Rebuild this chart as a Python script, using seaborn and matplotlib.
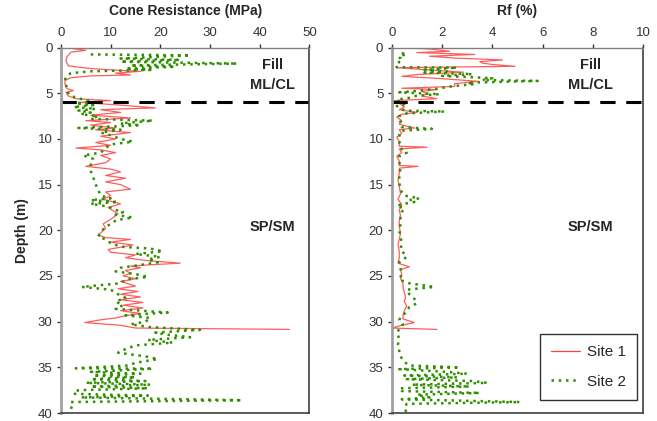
import numpy as np
import pandas as pd
import matplotlib
matplotlib.use("Agg")
import matplotlib.pyplot as plt
from matplotlib.lines import Line2D
import seaborn as sns

# cone resistance, site 1 (depth m, qc MPa)
qc1_depth = [0.0, 0.3, 0.5, 1.0, 1.5, 2.0, 2.3, 2.5, 2.6, 2.8, 3.0, 3.1, 3.3, 3.6, 4.0, 4.5, 4.7, 4.9,
             5.3, 5.6, 5.8, 6.0, 6.3, 6.6, 6.8, 7.1, 7.4, 7.7, 8.0, 8.2, 8.5, 8.8, 9.0, 9.3, 9.7, 10.0,
             10.4, 10.7, 11.0, 11.2, 11.5, 11.8, 12.2, 12.6, 13.0, 13.3, 13.6, 14.0, 14.3, 14.7, 15.0,
             15.5, 15.8, 16.2, 16.6, 17.1, 17.5, 18.2, 18.8, 19.3, 19.8, 20.5, 20.8, 21.0, 21.3, 21.6,
             22.1, 22.4, 22.7, 23.0, 23.3, 23.6, 23.9, 24.1, 24.4, 24.7, 25.0, 25.3, 25.6, 26.1, 26.4,
             26.7, 27.0, 27.3, 27.6, 27.9, 28.2, 28.5, 28.8, 29.1, 29.4, 29.6, 29.8, 30.1, 30.4, 30.7, 30.85]
qc1 = [1.0, 5.0, 2.0, 1.2, 1.0, 1.5, 6.0, 12.0, 16.0, 11.0, 14.0, 6.0, 2.0, 0.8, 0.8, 1.2, 2.5, 1.0,
       1.5, 3.0, 10.0, 4.0, 12.0, 19.0, 8.0, 12.0, 6.0, 14.0, 5.0, 10.0, 6.0, 11.0, 7.0, 14.0, 8.0, 11.0,
       7.0, 10.0, 3.0, 8.0, 11.0, 8.0, 10.0, 9.0, 5.0, 10.0, 12.0, 9.0, 13.0, 9.0, 12.0,
       14.0, 9.0, 10.0, 8.5, 12.0, 9.5, 11.5, 10.0, 8.5, 9.0, 7.5, 9.0, 14.0, 10.0, 14.5,
       9.5, 10.0, 15.0, 13.0, 17.0, 24.0, 14.0, 16.0, 13.0, 14.0, 12.5, 15.0, 12.0, 15.0, 11.5,
       15.5, 12.0, 16.0, 12.0, 16.5, 12.5, 16.5, 12.0, 16.0, 12.5, 11.0, 8.0, 4.8, 12.0, 15.0, 46.0]

# cone resistance, site 2
qc2_depth = [0.75, 0.85, 1.2, 1.35, 1.55, 1.75, 1.95, 2.1, 2.3, 2.45, 2.6, 2.8, 3.2, 3.6, 4.0, 4.5, 5.0,
             5.3, 5.7, 5.9, 6.1, 6.3, 6.5, 6.7, 6.9, 7.1, 7.3, 7.5, 7.8, 8.0, 8.3, 8.5, 8.8, 9.0, 9.3,
             9.6, 10.0, 10.3, 10.6, 11.0, 11.5, 11.8, 12.2, 12.8, 13.5, 14.2, 15.0, 15.6, 16.2, 16.5,
             16.7, 16.9, 17.1, 17.4, 17.7, 18.0, 18.3, 18.6, 18.9, 19.2, 19.6, 20.2, 20.7, 21.0, 21.4,
             21.8, 22.0, 22.3, 22.6, 22.9, 23.2, 23.5, 23.8, 24.1, 24.5, 24.8, 25.1, 25.4, 25.8, 26.2,
             26.5, 27.0, 27.4, 27.8, 28.2, 28.6, 29.0, 29.3, 29.6, 30.0, 30.3, 30.6, 30.9, 31.2, 31.4,
             31.7, 32.0, 32.3, 32.6, 33.0, 33.4, 33.8, 34.1, 34.5, 34.8, 35.1, 35.15, 35.5, 35.7, 35.9,
             36.1, 36.3, 36.5, 36.7, 36.9, 37.1, 37.3, 37.5, 37.9, 38.1, 38.3, 38.6, 38.8, 39.2, 40.0]
qc2 = [6.0, 26.0, 12.0, 24.0, 12.0, 35.5, 14.0, 23.0, 13.0, 18.0, 6.0, 2.0, 1.0, 0.8, 1.0, 1.2, 1.5,
       2.0, 4.5, 6.0, 3.0, 6.5, 2.5, 7.0, 3.5, 6.0, 4.0, 7.5, 6.0, 18.5, 12.0, 16.0, 3.5, 12.0, 8.0,
       10.0, 12.0, 14.5, 10.0, 9.0, 8.0, 4.5, 6.5, 6.0, 6.0, 6.5, 7.0, 7.5, 8.0, 10.0,
       6.0, 11.5, 6.0, 9.5, 10.5, 12.5, 11.0, 14.5, 11.0, 10.5, 9.0, 8.0, 7.5, 9.0, 10.0,
       12.0, 18.0, 20.5, 15.0, 20.0, 17.5, 19.5, 16.0, 12.0, 11.0, 15.0, 17.5, 13.0, 12.0, 4.2,
       10.0, 11.5, 13.0, 11.0, 12.5, 11.0, 21.5, 13.0, 18.0, 17.0, 14.0, 18.0, 28.0, 19.0, 21.0,
       26.0, 17.5, 22.5, 15.0, 13.0, 11.5, 17.0, 19.5, 15.0, 13.5, 3.0, 18.5, 6.0, 16.0, 6.5,
       15.0, 6.0, 17.0, 5.0, 18.0, 6.0, 17.5, 3.5, 2.5, 17.5, 4.0, 36.5, 2.0, 2.2, 1.8]

# friction ratio, site 1 (%)
rf1_depth = [0.05, 0.15, 0.4, 0.55, 0.75, 0.95, 1.15, 1.35, 1.55, 1.7, 1.85, 2.05, 2.2, 2.45, 2.7, 2.95,
             3.15, 3.4, 3.7, 3.95, 4.25, 4.45, 4.6, 4.8, 5.05, 5.3, 5.6, 5.8, 6.1, 6.5, 6.8, 7.1, 7.3,
             7.6, 8.0, 8.4, 8.8, 9.0, 9.4, 9.8, 10.3, 10.8, 10.9, 11.1, 11.5, 11.9, 12.4, 12.9, 13.0,
             13.2, 13.8, 14.5, 15.2, 16.0, 16.6, 17.2, 17.8, 18.4, 19.0, 19.6, 20.3, 21.0, 21.6, 22.3,
             23.0, 23.6, 24.0, 24.3, 24.8, 25.3, 25.8, 26.3, 26.8, 27.3, 27.8, 28.3, 28.8, 29.3, 29.7,
             30.1, 30.4, 30.7, 30.85]
rf1 = [0.6, 1.5, 2.3, 1.0, 3.3, 1.5, 2.5, 4.4, 3.5, 3.6, 4.0, 4.9, 0.2, 1.5, 2.85, 1.0,
       0.4, 2.0, 3.45, 2.5, 2.5, 0.4, 1.8, 1.2, 1.4, 1.2, 1.8, 0.1, 0.3, 0.5, 0.3, 1.0, 0.4,
       0.2, 0.4, 0.3, 0.9, 0.3, 0.4, 0.2, 0.3, 0.3, 1.4, 0.3, 0.4, 0.2, 0.3, 0.3, 1.05,
       0.3, 0.3, 0.25, 0.3, 0.35, 0.25, 0.4, 0.3, 0.35, 0.3, 0.3, 0.35, 0.3, 0.25, 0.3,
       0.3, 0.25, 0.7, 0.35, 0.4, 0.35, 0.45, 0.45, 0.5, 0.55, 0.5, 0.6, 0.5, 0.45, 0.45,
       0.9, 0.4, 0.0, 1.8]

# friction ratio, site 2
rf2_depth = [0.6, 0.75, 0.9, 1.1, 1.3, 1.6, 1.9, 2.15, 2.2, 2.45, 2.6, 2.75, 2.9, 3.1, 3.35, 3.55, 3.65,
             3.85, 4.0, 4.2, 4.5, 4.75, 4.9, 5.1, 5.3, 5.5, 5.7, 5.9, 6.2, 6.4, 6.7, 6.9, 7.0, 7.2, 7.5,
             7.9, 8.3, 8.7, 8.9, 9.1, 9.5, 10.0, 10.5, 11.0, 11.5, 11.9, 12.5, 13.2, 14.0, 14.8, 15.6,
             16.2, 16.5, 16.7, 16.9, 17.1, 17.3, 17.6, 18.0, 18.6, 19.3, 20.0, 20.7, 21.4, 22.1, 22.9,
             23.5, 24.2, 24.8, 25.4, 25.8, 26.2, 26.5, 27.0, 27.5, 28.0, 28.4, 28.9, 29.4, 29.8, 30.3,
             30.8, 31.3, 31.8, 32.5, 33.2, 33.8, 34.4, 34.8, 35.0, 35.2, 35.5, 35.7, 35.9, 36.1, 36.3,
             36.5, 36.7, 36.9, 37.1, 37.3, 37.6, 37.8, 38.0, 38.3, 38.5, 38.8, 39.0, 39.4, 40.0]
rf2 = [0.4, 0.6, 0.3, 0.35, 0.2, 0.3, 0.15, 0.2, 2.6, 1.3, 2.2, 1.3, 3.2, 2.0, 4.0, 3.6, 5.8,
       3.0, 3.3, 2.5, 1.8, 1.0, 0.3, 1.9, 0.9, 0.7, 0.2, 0.3, 0.5, 0.2, 0.4, 0.5, 2.1, 0.6, 0.3,
       0.4, 0.3, 0.4, 1.6, 0.4, 0.3, 0.35, 0.3, 0.35, 0.6, 0.3, 0.3, 0.35, 0.3, 0.3, 0.35,
       0.5, 1.1, 0.7, 0.9, 0.5, 0.2, 0.5, 0.4, 0.35, 0.35, 0.3, 0.35, 0.4, 0.35, 0.6,
       0.3, 0.35, 0.4, 0.3, 0.7, 1.7, 0.6, 0.7, 0.9, 1.0, 0.7, 0.6, 0.4, 0.3, 0.45,
       0.3, 0.2, 0.3, 0.25, 0.3, 0.35, 0.5, 0.7, 2.7, 0.3, 2.2, 3.0, 0.5, 2.6, 0.6,
       3.2, 3.8, 0.8, 3.1, 0.3, 0.4, 3.5, 1.0, 1.5, 0.4, 5.1, 0.6, 0.5, 0.6]

site_labels = ["Site 1", "Site 2"]
fill_depth = 6.0

sns.set_style("white")
plt.rcParams["font.family"] = ["Liberation Sans", "DejaVu Sans"]

red = "#ff4040"
green = "#2f8f00"
dots = (0, (1, 1.9))

fig = plt.figure(figsize=(6.57, 4.21), dpi=100)
ax1 = fig.add_axes([0.0928, 0.019, 0.378, 0.868])
ax2 = fig.add_axes([0.5962, 0.019, 0.383, 0.868])


def draw_profile(ax, d1, v1, d2, v2):
    sns.lineplot(x=v1, y=d1, sort=False, estimator=None, orient="y", ax=ax,
                 color=red, linewidth=0.9, alpha=0.85)
    sns.lineplot(x=v2, y=d2, sort=False, estimator=None, orient="y", ax=ax,
                 color=green, linewidth=1.8, linestyle=dots)


draw_profile(ax1, qc1_depth, qc1, qc2_depth, qc2)
draw_profile(ax2, rf1_depth, rf1, rf2_depth, rf2)

for ax, xmax, step, title, xt in [(ax1, 50, 10, "Cone Resistance (MPa)", 42.5),
                                  (ax2, 10, 2, "Rf (%)", 7.9)]:
    ax.set_xlim(0, xmax)
    ax.set_ylim(40, 0)
    ax.set_xticks(np.arange(0, xmax + 1, step))
    ax.set_yticks(np.arange(0, 41, 5))
    ax.xaxis.tick_top()
    ax.xaxis.set_label_position("top")
    ax.set_xlabel(title, fontsize=10, fontweight="bold", labelpad=9)
    ax.set_ylabel("")
    ax.tick_params(axis="both", labelsize=9.5, colors="#333333", length=3, width=1,
                   direction="out", pad=3)
    ax.tick_params(axis="x", top=True, bottom=False)
    ax.tick_params(axis="y", left=True)
    ax.axhline(fill_depth, color="black", linewidth=2.2, linestyle=(0, (5, 3.5)))
    ax.text(xt, 3.0, "Fill\nML/CL", ha="center", va="center", fontsize=10.5,
            fontweight="bold", linespacing=1.5)
    ax.text(xt, 19.6, "SP/SM", ha="center", va="center", fontsize=10.5, fontweight="bold")
    ax.spines["left"].set_color("#a0a0a0")
    ax.spines["left"].set_linewidth(2.0)
    ax.spines["top"].set_color("#808080")
    ax.spines["top"].set_linewidth(1.0)
    for s in ["right", "bottom"]:
        ax.spines[s].set_color("#404040")
        ax.spines[s].set_linewidth(1.2)

ax1.set_ylabel("Depth (m)", fontsize=10, fontweight="bold", labelpad=6)

handles = [Line2D([], [], color=red, linewidth=0.9),
           Line2D([], [], color=green, linewidth=1.8, linestyle=dots)]
leg = ax2.legend(handles, site_labels, loc="lower right", bbox_to_anchor=(0.975, 0.035),
                 borderaxespad=0, frameon=True, fancybox=False, edgecolor="black",
                 fontsize=11, labelspacing=1.0, handlelength=1.9, borderpad=0.75,
                 handletextpad=0.4)
leg.get_frame().set_linewidth(1.0)

fig.savefig("out.png", dpi=100)
